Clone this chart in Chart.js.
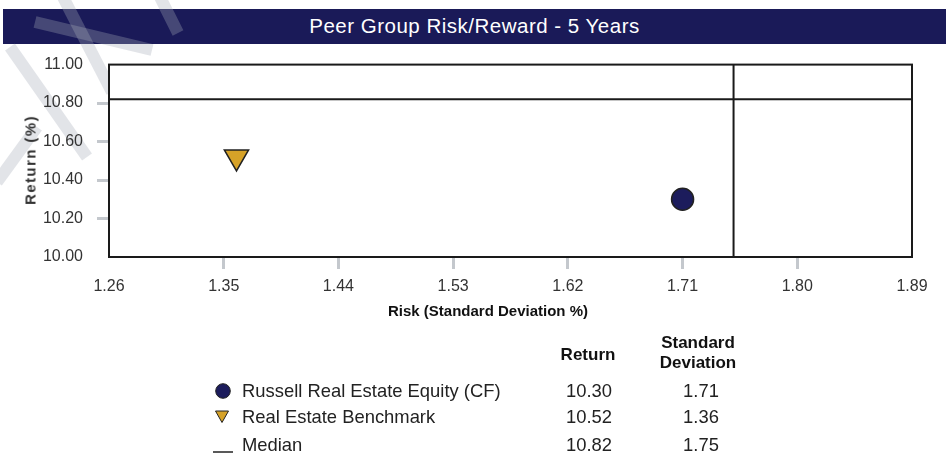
<!DOCTYPE html>
<html>
<head>
<meta charset="utf-8">
<script src="https://cdn.jsdelivr.net/npm/chart.js@4.4.0/dist/chart.umd.min.js"></script>
<style>
  body { margin: 0; width: 951px; height: 459px; background: #fff; position: relative; overflow: hidden;
         font-family: 'Liberation Sans', Arial, sans-serif; color: #222; }
  #titleBar { position: absolute; left: 3px; top: 9px; width: 943px; height: 35px; background: #1a1a58;
              color: #fff; font-size: 20.5px; letter-spacing: 0.5px; line-height: 34px; text-align: center; }
  #wm { position: absolute; left: 0; top: 0; z-index: 1; pointer-events: none; }
  #chartBox { position: absolute; left: 0; top: 41px; width: 951px; height: 289px; z-index: 2; }
  #xTitle { position: absolute; z-index: 3; left: 338px; width: 300px; top: 301px; text-align: center;
            font-weight: bold; font-size: 15px; line-height: 20px; color: #111; }
  #yTitle { position: absolute; z-index: 3; left: 30px; top: 160px; transform: translate(-50%, -50%) rotate(-90deg);
            font-weight: bold; font-size: 15px; letter-spacing: 1.4px; color: #333; white-space: nowrap; }
  .cell { position: absolute; z-index: 3; font-size: 18.4px; line-height: 20px; white-space: nowrap; }
  .num { text-align: center; width: 100px; }
  .head { font-weight: bold; font-size: 17px; line-height: 20px; color: #111; }
</style>
</head>
<body>
<div id="titleBar">Peer Group Risk/Reward - 5 Years</div>
<canvas id="wm" width="951" height="459"></canvas>
<div id="chartBox"><canvas id="myChart" width="951" height="289"></canvas></div>
<div id="xTitle">Risk (Standard Deviation %)</div>
<div id="yTitle">Return (%)</div>
<div id="legendBox"></div>

<script>
// data
const seriesNames = ['Russell Real Estate Equity (CF)', 'Real Estate Benchmark', 'Median'];
const returns = [10.30, 10.52, 10.82];
const stdDevs = [1.71, 1.36, 1.75];
const xTicks = [1.26, 1.35, 1.44, 1.53, 1.62, 1.71, 1.80, 1.89];
const yTicks = [10.00, 10.20, 10.40, 10.60, 10.80, 11.00];

const navy = '#1c1c5c';
const gold = '#d6a228';

// watermark strokes behind the chart (just decoration)
const wctx = document.getElementById('wm').getContext('2d');
wctx.strokeStyle = 'rgba(165,170,182,0.32)';
wctx.lineWidth = 12;
[[[35, 22], [152, 50]], [[63, -3], [112, 92]], [[160, -3], [178, 33]], [[10, 47], [87, 157]], [[37, 127], [-3, 182]]]
  .forEach(s => {
    wctx.beginPath();
    wctx.moveTo(s[0][0], s[0][1]);
    wctx.lineTo(s[1][0], s[1][1]);
    wctx.stroke();
  });

// plot area white + frame
const framePlugin = {
  id: 'frame',
  beforeDraw(chart) {
    const a = chart.chartArea;
    chart.ctx.save();
    chart.ctx.fillStyle = '#fff';
    chart.ctx.fillRect(a.left, a.top, a.right - a.left, a.bottom - a.top);
    chart.ctx.restore();
  },
  afterDraw(chart) {
    const a = chart.chartArea;
    const c = chart.ctx;
    c.save();
    c.strokeStyle = '#1a1a1a';
    c.lineWidth = 2;
    c.strokeRect(a.left, a.top, a.right - a.left, a.bottom - a.top);
    c.restore();
  }
};

const tickCol = (ctx) => (ctx.index === 0 || ctx.index === ctx.scale.ticks.length - 1) ? 'rgba(0,0,0,0)' : '#c4c8cd';

const ctx = document.getElementById('myChart').getContext('2d');
const myChart = new Chart(ctx, {
    type: 'scatter',
    data: {
        datasets: [{
            label: seriesNames[0],
            data: [{ x: stdDevs[0], y: returns[0] }],
            pointStyle: 'circle',
            pointRadius: 11,
            backgroundColor: navy,
            borderColor: '#222',
            borderWidth: 1.5,
            order: 1
        }, {
            label: seriesNames[1],
            data: [{ x: stdDevs[1], y: returns[1] }],
            pointStyle: 'triangle',
            rotation: 180,
            pointRadius: 14,
            backgroundColor: gold,
            borderColor: '#222',
            borderWidth: 1.5,
            order: 1
        }, {
            // median vertical line
            label: seriesNames[2],
            data: [{ x: stdDevs[2], y: yTicks[0] }, { x: stdDevs[2], y: yTicks[yTicks.length - 1] }],
            showLine: true,
            pointRadius: 0,
            borderColor: '#1a1a1a',
            borderWidth: 2,
            order: 2
        }, {
            // median horizontal line
            label: seriesNames[2],
            data: [{ x: xTicks[0], y: returns[2] }, { x: xTicks[xTicks.length - 1], y: returns[2] }],
            showLine: true,
            pointRadius: 0,
            borderColor: '#1a1a1a',
            borderWidth: 2,
            order: 2
        }]
    },
    options: {
        responsive: false,
        animation: false,
        layout: { padding: { left: 0, top: 4, right: 39, bottom: 0 } },
        plugins: {
            legend: { display: false },
            tooltip: { enabled: false }
        },
        scales: {
            x: {
                type: 'linear',
                min: xTicks[0],
                max: xTicks[xTicks.length - 1],
                afterBuildTicks: (s) => { s.ticks = xTicks.map(v => ({ value: v })); },
                afterFit: (s) => { s.height = 73; },
                grid: { drawOnChartArea: false, tickLength: 12, tickWidth: 3, tickColor: tickCol },
                border: { display: false },
                ticks: {
                    padding: 8,
                    color: '#333',
                    font: { family: "'Liberation Sans', Arial", size: 16 },
                    callback: (v) => v.toFixed(2)
                }
            },
            y: {
                type: 'linear',
                min: yTicks[0],
                max: yTicks[yTicks.length - 1],
                afterBuildTicks: (s) => { s.ticks = yTicks.map(v => ({ value: v })); },
                afterFit: (s) => { s.width = 109; },
                grid: { drawOnChartArea: false, tickLength: 12, tickWidth: 3, tickColor: tickCol },
                border: { display: false },
                ticks: {
                    padding: 14,
                    color: '#333',
                    font: { family: "'Liberation Sans', Arial", size: 16 },
                    callback: (v) => v.toFixed(2)
                }
            }
        }
    },
    plugins: [framePlugin]
});

// table under the chart
const box = document.getElementById('legendBox');
function addCell(html, cls, left, top) {
    const d = document.createElement('div');
    d.className = 'cell ' + cls;
    d.style.left = left + 'px';
    d.style.top = top + 'px';
    d.innerHTML = html;
    box.appendChild(d);
}
addCell('Return', 'num head', 538, 345);
addCell('Standard<br>Deviation', 'num head', 648, 333);

const markers = [
    '<svg width="18" height="18"><circle cx="9" cy="9" r="7.3" fill="' + navy + '" stroke="#222" stroke-width="1"/></svg>',
    '<svg width="18" height="18"><polygon points="2.5,3 15.5,3 9,14.5" fill="' + gold + '" stroke="#222" stroke-width="1"/></svg>',
    '<svg width="22" height="18"><line x1="1" y1="16" x2="21" y2="16" stroke="#222" stroke-width="1.5"/></svg>'
];
const rowY = [381, 407, 435];
const markerX = [214, 213, 212];
seriesNames.forEach((name, i) => {
    addCell(markers[i], '', markerX[i], rowY[i] + 1);
    addCell(name, '', 242, rowY[i]);
    addCell(returns[i].toFixed(2), 'num', 539, rowY[i]);
    addCell(stdDevs[i].toFixed(2), 'num', 651, rowY[i]);
});
</script>
</body>
</html>
